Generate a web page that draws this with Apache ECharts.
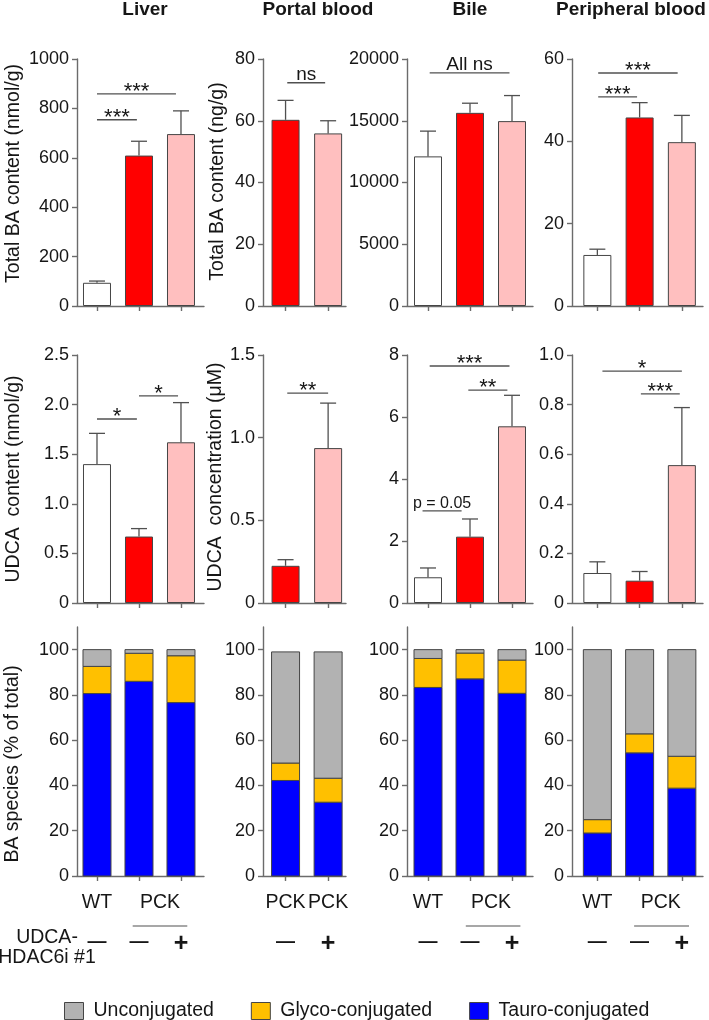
<!DOCTYPE html>
<html>
<head>
<meta charset="utf-8">
<script src="https://cdn.jsdelivr.net/npm/echarts@6/dist/echarts.min.js"></script>
<style>
  html, body { margin: 0; padding: 0; background: #fff; }
  #chart { width: 709px; height: 1020px; }
</style>
</head>
<body>
<div id="chart"></div>
<script>
// groups and titles
const groups3 = ['WT', 'PCK', 'PCK+'];
const groups2 = ['PCK', 'PCK+'];
const panelTitles = ['Liver', 'Portal blood', 'Bile', 'Peripheral blood'];

// row 1: total BA (mean, SEM)
const liverTotal = [94, 609, 696];
const liverTotalSem = [7, 58, 94];
const portalTotal = [60.3, 55.9];
const portalTotalSem = [6.3, 4.1];
const bileTotal = [12115, 15640, 14970];
const bileTotalSem = [2045, 780, 2070];
const periTotal = [12.4, 45.8, 39.8];
const periTotalSem = [1.4, 3.6, 6.5];

// row 2: UDCA
const liverUdca = [1.40, 0.67, 1.62];
const liverUdcaSem = [0.31, 0.08, 0.40];
const portalUdca = [0.225, 0.937];
const portalUdcaSem = [0.037, 0.272];
const bileUdca = [0.83, 2.14, 5.70];
const bileUdcaSem = [0.30, 0.57, 1.00];
const periUdca = [0.121, 0.090, 0.556];
const periUdcaSem = [0.045, 0.037, 0.232];

// significance brackets: [from, to, level, label]
const liverTotalSig = [[0, 0.95, 754, '***'], [0, 1.88, 859, '***']];
const portalTotalSig = [[0.04, 0.93, 72.3, 'ns']];
const bileTotalSig = [[0.04, 1.94, 18870, 'All ns']];
const periTotalSig = [[0.02, 0.94, 50.8, '***'], [0.02, 1.9, 56.6, '***']];
const liverUdcaSig = [[0, 0.95, 1.855, '*'], [1.0, 1.93, 2.087, '*']];
const portalUdcaSig = [[0.04, 1.0, 1.27, '**']];
const bileUdcaSig = [[0.04, 1.94, 7.645, '***'], [0.96, 1.89, 6.87, '**'], [-0.13, 0.8, 2.97, 'p = 0.05']];
const periUdcaSig = [[0.12, 2.0, 0.935, '*'], [1.03, 1.95, 0.843, '***']];

// y tick labels
const liverTotalTicks = [0, 200, 400, 600, 800, 1000];
const portalTotalTicks = [0, 20, 40, 60, 80];
const bileTotalTicks = [0, 5000, 10000, 15000, 20000];
const periTotalTicks = [0, 20, 40, 60];
const liverUdcaTicks = [0, 0.5, 1, 1.5, 2, 2.5];
const portalUdcaTicks = [0, 0.5, 1, 1.5];
const bileUdcaTicks = [0, 2, 4, 6, 8];
const periUdcaTicks = [0, 0.2, 0.4, 0.6, 0.8, 1];
const speciesTicks = [0, 20, 40, 60, 80, 100];

// row 3: BA species (% of total)
const liverTauro = [80.6, 86.0, 76.6];
const liverGlyco = [12.0, 12.4, 20.7];
const liverUncon = [7.4, 1.6, 2.7];
const portalTauro = [42.2, 32.6];
const portalGlyco = [7.7, 10.6];
const portalUncon = [49.1, 55.8];
const bileTauro = [83.3, 87.1, 80.7];
const bileGlyco = [12.8, 11.4, 14.7];
const bileUncon = [3.9, 1.5, 4.6];
const periTauro = [19.0, 54.4, 38.8];
const periGlyco = [5.9, 8.4, 14.1];
const periUncon = [75.1, 37.2, 47.1];

// bottom labels
const strainLabels3 = ['WT', 'PCK'];
const strainLabelPos3 = [0, 1.5];
const strainLabels2 = ['PCK', 'PCK'];
const strainLabelPos2 = [0, 1];
const treat3 = ['—', '—', '+'];
const treat2 = ['—', '+'];
const speciesNames = ['Unconjugated', 'Glyco-conjugated', 'Tauro-conjugated'];

const FONT = '"Liberation Sans", Arial, sans-serif';
const INK = '#161616';
const AXIS = '#6b6b6b';
const EDGE = '#454545';
const groupColors = { 'WT': '#ffffff', 'PCK': '#ff0000', 'PCK+': '#ffbfbf' };
const speciesColors = { 'Unconjugated': '#b2b2b2', 'Glyco-conjugated': '#ffc000', 'Tauro-conjugated': '#0000ff' };

const cols = [
  { left: 77, width: 127, xmin: -0.476, xmax: 2.548, title: 145 },
  { left: 263, width: 83, xmin: -0.53, xmax: 1.42, title: 318 },
  { left: 407, width: 126, xmin: -0.5, xmax: 2.5, title: 470 },
  { left: 572, width: 131, xmin: -0.6, xmax: 2.5, title: 631 }
];
const rows = [
  { top: 59, height: 247 },
  { top: 355, height: 248 },
  { top: 627, height: 249 }
];

const barPanels = [
  { row: 0, col: 0, groups: groups3, values: liverTotal, sem: liverTotalSem, sig: liverTotalSig, ticks: liverTotalTicks, dec: 0, name: 'Total BA content (nmol/g)', nameGap: 53, namePad: [0, 0, 0, 18] },
  { row: 0, col: 1, groups: groups2, values: portalTotal, sem: portalTotalSem, sig: portalTotalSig, ticks: portalTotalTicks, dec: 0, name: 'Total BA content (ng/g)', nameGap: 35, namePad: [0, 0, 0, 2] },
  { row: 0, col: 2, groups: groups3, values: bileTotal, sem: bileTotalSem, sig: bileTotalSig, ticks: bileTotalTicks, dec: 0 },
  { row: 0, col: 3, groups: groups3, values: periTotal, sem: periTotalSem, sig: periTotalSig, ticks: periTotalTicks, dec: 0 },
  { row: 1, col: 0, groups: groups3, values: liverUdca, sem: liverUdcaSem, sig: liverUdcaSig, ticks: liverUdcaTicks, dec: 1, name: 'UDCA  content (nmol/g)', nameGap: 53, namePad: [0, 0, 0, 0] },
  { row: 1, col: 1, groups: groups2, values: portalUdca, sem: portalUdcaSem, sig: portalUdcaSig, ticks: portalUdcaTicks, dec: 1, name: 'UDCA  concentration (μM)', nameGap: 27, namePad: [0, 0, 0, 4] },
  { row: 1, col: 2, groups: groups3, values: bileUdca, sem: bileUdcaSem, sig: bileUdcaSig, ticks: bileUdcaTicks, dec: 0 },
  { row: 1, col: 3, groups: groups3, values: periUdca, sem: periUdcaSem, sig: periUdcaSig, ticks: periUdcaTicks, dec: 1 }
];

const speciesPanels = [
  { col: 0, n: 3, parts: [liverTauro, liverGlyco, liverUncon], labels: strainLabels3, labelPos: strainLabelPos3, treat: treat3, bracket: [0.85, 2.15], name: 'BA species (% of total)' },
  { col: 1, n: 2, parts: [portalTauro, portalGlyco, portalUncon], labels: strainLabels2, labelPos: strainLabelPos2, treat: treat2, bracket: null },
  { col: 2, n: 3, parts: [bileTauro, bileGlyco, bileUncon], labels: strainLabels3, labelPos: strainLabelPos3, treat: treat3, bracket: [0.9, 2.2] },
  { col: 3, n: 3, parts: [periTauro, periGlyco, periUncon], labels: strainLabels3, labelPos: strainLabelPos3, treat: treat3, bracket: [0.87, 2.17] }
];

const idx = n => Array.from({ length: n }, (_, i) => i);
const lineStyle = { color: AXIS, width: 1.4 };

function baseXAxis(g, col, n) {
  return {
    type: 'value', gridIndex: g, min: col.xmin, max: col.xmax,
    axisLine: { show: true, onZero: false, lineStyle },
    axisTick: { show: true, customValues: idx(n), length: 5, lineStyle },
    axisLabel: { show: false },
    splitLine: { show: false }
  };
}

function baseYAxis(g, ticks, dec, max) {
  return {
    type: 'value', gridIndex: g, min: 0, max: max,
    axisLine: { show: true, onZero: false, lineStyle },
    axisTick: { show: true, customValues: ticks, length: 5, lineStyle },
    axisLabel: {
      customValues: ticks, margin: 8, fontSize: 18, fontFamily: FONT, color: INK,
      formatter: v => (v === 0 ? '0' : v.toFixed(dec))
    },
    splitLine: { show: false }
  };
}

function errorRender(params, api) {
  const x = api.value(0), v = api.value(1), e = api.value(2);
  const p0 = api.coord([x, v]);
  const p1 = api.coord([x, v + e]);
  const st = { stroke: '#505050', lineWidth: 1.3 };
  return {
    type: 'group',
    children: [
      { type: 'line', shape: { x1: p0[0], y1: p0[1], x2: p1[0], y2: p1[1] }, style: st },
      { type: 'line', shape: { x1: p1[0] - 8, y1: p1[1], x2: p1[0] + 8, y2: p1[1] }, style: st }
    ]
  };
}

// stacked segment: [category, bottom, top]
function segmentRender(params, api) {
  const top = api.coord([api.value(0), api.value(2)]);
  const bot = api.coord([api.value(0), api.value(1)]);
  return {
    type: 'rect',
    shape: { x: top[0] - 14, y: top[1], width: 28, height: bot[1] - top[1] },
    style: { fill: api.visual('color'), stroke: EDGE, lineWidth: 1 }
  };
}

function makeSigRender(sig) {
  return function (params, api) {
    const a = api.coord([api.value(0), api.value(2)]);
    const b = api.coord([api.value(1), api.value(2)]);
    const label = sig[params.dataIndex][3];
    const isStar = /^\*+$/.test(label);
    const small = label.indexOf('p') === 0;
    return {
      type: 'group',
      children: [
        { type: 'line', shape: { x1: a[0], y1: a[1], x2: b[0], y2: b[1] }, style: { stroke: '#505050', lineWidth: 1.3 } },
        {
          type: 'text', x: (a[0] + b[0]) / 2, y: isStar ? a[1] - 2 : a[1] + 1,
          style: {
            text: label, align: 'center', verticalAlign: isStar ? 'middle' : 'bottom',
            font: (isStar ? 22 : small ? 16 : 19) + 'px ' + FONT, fill: INK
          }
        }
      ]
    };
  };
}

function bracketRender(params, api) {
  const a = api.coord([api.value(0), 0]);
  const b = api.coord([api.value(1), 0]);
  return {
    type: 'line',
    shape: { x1: a[0], y1: a[1] + 50, x2: b[0], y2: b[1] + 50 },
    style: { stroke: '#505050', lineWidth: 1.2 }
  };
}

const grid = [], xAxis = [], yAxis = [], series = [];

barPanels.forEach(p => {
  const col = cols[p.col], row = rows[p.row];
  const g = grid.length;
  grid.push({ left: col.left, top: row.top, width: col.width, height: row.height });
  const xi = xAxis.length;
  xAxis.push(baseXAxis(g, col, p.groups.length));
  const ya = baseYAxis(g, p.ticks, p.dec, p.ticks[p.ticks.length - 1]);
  if (p.name) {
    Object.assign(ya, {
      name: p.name, nameLocation: 'middle', nameGap: p.nameGap,
      nameTextStyle: { fontSize: 19.5, fontFamily: FONT, color: INK, padding: p.namePad }
    });
  }
  const yi = yAxis.length;
  yAxis.push(ya);
  series.push({
    type: 'bar', xAxisIndex: xi, yAxisIndex: yi, barWidth: 28, silent: true,
    itemStyle: { borderColor: EDGE, borderWidth: 1 },
    data: p.values.map((v, k) => ({ value: [k, v], itemStyle: { color: groupColors[p.groups[k]] } }))
  });
  series.push({
    type: 'custom', xAxisIndex: xi, yAxisIndex: yi, z: 3, silent: true,
    renderItem: errorRender,
    data: p.values.map((v, k) => [k, v, p.sem[k]])
  });
  series.push({
    type: 'custom', xAxisIndex: xi, yAxisIndex: yi, z: 3, silent: true,
    renderItem: makeSigRender(p.sig),
    data: p.sig.map(s => [s[0], s[1], s[2]])
  });
});

speciesPanels.forEach(p => {
  const col = cols[p.col], row = rows[2];
  const g = grid.length;
  grid.push({ left: col.left, top: row.top, width: col.width, height: row.height });
  const xi = xAxis.length;
  const xa = baseXAxis(g, col, p.n);
  xa.axisLabel = {
    show: true, customValues: p.labelPos, margin: 17, fontSize: 19.5, fontFamily: FONT, color: INK,
    formatter: v => p.labels[p.labelPos.indexOf(v)]
  };
  xAxis.push(xa);
  xAxis.push({
    type: 'value', gridIndex: g, min: col.xmin, max: col.xmax, position: 'bottom', offset: 50,
    axisLine: { show: false }, axisTick: { show: false }, splitLine: { show: false },
    axisLabel: {
      show: true, customValues: idx(p.n), margin: 6,
      formatter: v => (p.treat[v] === '+' ? '{p|+}' : '{m|—}'),
      rich: {
        p: { fontSize: 25, fontWeight: 'bold', fontFamily: FONT, color: INK },
        m: { fontSize: 19, fontWeight: 'bold', fontFamily: FONT, color: INK }
      }
    }
  });
  const ya = baseYAxis(g, speciesTicks, 0, 110);
  if (p.name) {
    Object.assign(ya, {
      name: p.name, nameLocation: 'middle', nameGap: 54,
      nameTextStyle: { fontSize: 19.5, fontFamily: FONT, color: INK, padding: [0, 25, 0, 0] }
    });
  }
  const yi = yAxis.length;
  yAxis.push(ya);
  const order = ['Tauro-conjugated', 'Glyco-conjugated', 'Unconjugated'];
  const base = p.parts[0].map(() => 0);
  order.forEach((nm, s) => {
    const data = p.parts[s].map((v, k) => [k, base[k], base[k] + v]);
    p.parts[s].forEach((v, k) => { base[k] += v; });
    series.push({
      type: 'custom', name: nm, xAxisIndex: xi, yAxisIndex: yi, silent: true,
      itemStyle: { color: speciesColors[nm] },
      renderItem: segmentRender, data: data
    });
  });
  if (p.bracket) {
    series.push({
      type: 'custom', xAxisIndex: xi, yAxisIndex: yi, silent: true, clip: false,
      renderItem: bracketRender, data: [p.bracket]
    });
  }
});

const graphic = panelTitles.map((t, i) => ({
  type: 'text', x: cols[i].title, y: 10,
  style: { text: t, font: 'bold 19px ' + FONT, fill: INK, align: 'center', verticalAlign: 'middle' }
}));
graphic.push({
  type: 'text', x: 47, y: 938,
  style: { text: 'UDCA-', font: '19.5px ' + FONT, fill: INK, align: 'center', verticalAlign: 'middle' }
});
graphic.push({
  type: 'text', x: 47, y: 958,
  style: { text: 'HDAC6i #1', font: '19.5px ' + FONT, fill: INK, align: 'center', verticalAlign: 'middle' }
});

const option = {
  animation: false,
  backgroundColor: '#fff',
  legend: {
    data: speciesNames, left: 64, top: 1001, padding: 0, icon: 'rect',
    itemWidth: 19, itemHeight: 17, itemGap: 37, selectedMode: false,
    itemStyle: { borderColor: EDGE, borderWidth: 1 },
    textStyle: { fontSize: 19.5, fontFamily: FONT, color: INK, padding: [0, 0, 0, 5] }
  },
  grid, xAxis, yAxis, series, graphic
};

const myChart = echarts.init(document.getElementById('chart'));
myChart.setOption(option);
</script>
</body>
</html>
